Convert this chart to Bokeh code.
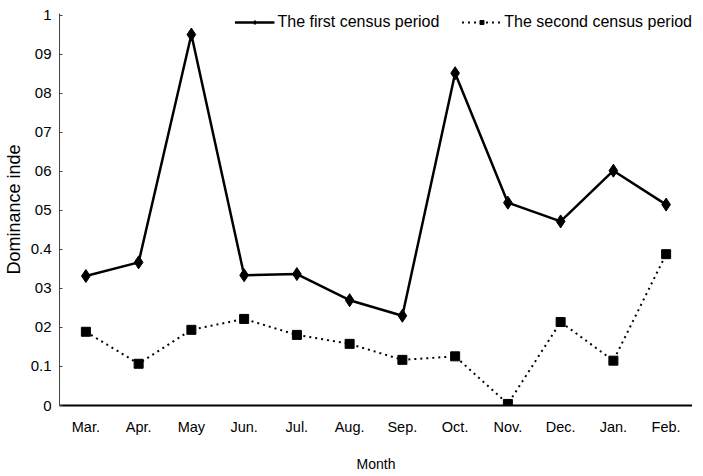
from bokeh.plotting import figure
from bokeh.models import Range1d, FixedTicker, Legend, LegendItem, ColumnDataSource
from bokeh.embed import file_html
from bokeh.resources import INLINE

months = ["Mar.", "Apr.", "May", "Jun.", "Jul.", "Aug.", "Sep.", "Oct.", "Nov.", "Dec.", "Jan.", "Feb."]
first_period = [0.332, 0.367, 0.951, 0.334, 0.337, 0.270, 0.230, 0.852, 0.520, 0.472, 0.602, 0.515]
second_period = [0.189, 0.107, 0.194, 0.222, 0.181, 0.158, 0.117, 0.126, 0.004, 0.214, 0.115, 0.388]
y_ticks = [0, 0.1, 0.2, 0.3, 0.4, 0.5, 0.6, 0.7, 0.8, 0.9, 1.0]
y_tick_labels = ["0", "0.1", "02", "03", "0.4", "05", "06", "07", "08", "09", "1"]
series_names = ["The first census period", "The second census period"]

FONT = "Liberation Sans"

src = ColumnDataSource(dict(m=months, a=first_period, b=second_period))

p = figure(width=692, height=474, x_range=months, y_range=Range1d(0, 1.005),
           output_backend="svg", toolbar_location=None,
           min_border_left=49, min_border_right=0, min_border_top=13, min_border_bottom=8)
p.outline_line_color = None
p.grid.visible = False
p.background_fill_color = "white"

l1 = p.line("m", "a", source=src, line_color="black", line_width=2.5)
s1 = p.scatter("m", "a", source=src, marker="diamond", size=13, fill_color="black", line_color="black")
l2 = p.line("m", "b", source=src, line_color="black", line_width=2, line_dash="2 4")
s2 = p.scatter("m", "b", source=src, marker="square", size=9, fill_color="black", line_color="black")

p.yaxis.ticker = FixedTicker(ticks=y_ticks)
p.yaxis.major_label_overrides = {t: lab for t, lab in zip(y_ticks, y_tick_labels)}
p.yaxis.major_tick_in = 3
p.yaxis.major_tick_out = 0
p.yaxis.minor_tick_line_color = None
p.yaxis.axis_line_color = "#444444"
p.yaxis.axis_line_width = 1
p.yaxis.major_tick_line_color = "#444444"
p.yaxis.major_label_text_font = FONT
p.yaxis.major_label_text_font_size = "15px"
p.yaxis.major_label_text_color = "black"
p.yaxis.major_label_standoff = 8
p.yaxis.axis_label = "Dominance inde"
p.yaxis.axis_label_text_font = FONT
p.yaxis.axis_label_text_font_style = "normal"
p.yaxis.axis_label_text_font_size = "18px"
p.yaxis.axis_label_text_color = "black"
p.yaxis.axis_label_standoff = 4

p.xaxis.axis_line_color = "black"
p.xaxis.axis_line_width = 2
p.xaxis.major_tick_in = 0
p.xaxis.major_tick_out = 0
p.xaxis.major_tick_line_color = None
p.xaxis.major_label_text_font = FONT
p.xaxis.major_label_text_font_size = "14.5px"
p.xaxis.major_label_text_color = "black"
p.xaxis.major_label_standoff = 13
p.xaxis.axis_label = "Month"
p.xaxis.axis_label_text_font = FONT
p.xaxis.axis_label_text_font_style = "normal"
p.xaxis.axis_label_text_font_size = "14px"
p.xaxis.axis_label_text_color = "black"
p.xaxis.axis_label_standoff = 18

legend = Legend(items=[LegendItem(label=series_names[0], renderers=[l1, s1]),
                       LegendItem(label=series_names[1], renderers=[l2, s2])],
                location="top_right", orientation="horizontal",
                label_text_font=FONT, label_text_font_size="16px",
                label_text_color="black",
                glyph_width=40, glyph_height=10, label_height=10,
                padding=0, margin=0, spacing=22, label_standoff=3,
                background_fill_alpha=0, border_line_alpha=0)
p.add_layout(legend)

open("out.html", "w").write(file_html(p, INLINE))
